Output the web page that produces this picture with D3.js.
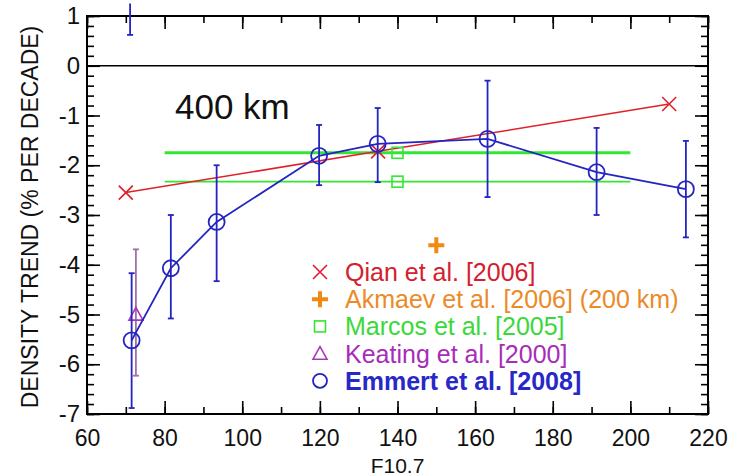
<!DOCTYPE html>
<html>
<head>
<meta charset="utf-8">
<script src="https://cdn.jsdelivr.net/npm/d3@7"></script>
<style>
  body { margin: 0; background: #fff; }
  text { font-family: "Liberation Sans", Arial, sans-serif; }
</style>
</head>
<body>
<div id="chart"></div>
<script>
// Emmert et al. [2008] - F10.7 bins, trend, error bar low / high
const emmertF = [71.5, 81.6, 93.4, 119.8, 134.9, 163.2, 191.3, 214.3];
const emmertY = [-5.52, -4.07, -3.14, -1.81, -1.57, -1.47, -2.14, -2.48];
const emmertLo = [-6.88, -5.08, -4.33, -2.40, -2.34, -2.64, -3.00, -3.45];
const emmertHi = [-4.17, -3.00, -2.00, -1.19, -0.85, -0.30, -1.25, -1.51];
// error bar that runs off the top of the plot
const offscaleBar = { f: 71.1, lo: 0.62, hi: 1.25 };

// Qian et al. [2006]
const qianF = [70, 135, 210];
const qianY = [-2.55, -1.72, -0.77];

// Akmaev et al. [2006] (200 km)
const akmaevF = [150];
const akmaevY = [-3.61];

// Marcos et al. [2005] - squares and the F10.7 range lines
const marcosF = [140, 140];
const marcosY = [-1.75, -2.33];
const marcosRange = [80, 200];

// Keating et al. [2000]
const keatingF = [72.6];
const keatingY = [-5.0];
const keatingLo = [-6.23];
const keatingHi = [-3.69];

const xTicks = [60, 80, 100, 120, 140, 160, 180, 200, 220];
const yTicks = [1, 0, -1, -2, -3, -4, -5, -6, -7];

const legendLabels = [
  "Qian et al. [2006]",
  "Akmaev et al. [2006] (200 km)",
  "Marcos et al. [2005]",
  "Keating et al. [2000]",
  "Emmert et al. [2008]"
];

const red = "#e0202a", orange = "#f08a10", green = "#33e633", purple = "#a838b8", blue = "#2424c0";

const width = 735, height = 476;
const plotLeft = 87, plotRight = 708, plotTop = 16, plotBottom = 414;

const svg = d3.select("#chart").append("svg")
    .attr("width", width)
    .attr("height", height);

const x = d3.scaleLinear().domain([60, 220]).range([plotLeft, plotRight]);
const y = d3.scaleLinear().domain([-7, 1]).range([plotBottom, plotTop]);

// axes with inward ticks
const fmt = d => d3.format("d")(d).replace("\u2212", "-");
const minorX = d3.range(60, 221, 10);
const minorY = d3.range(-7, 1.001, 0.2);

function drawAxis(axis, tr) {
  const g = svg.append("g").attr("transform", tr).call(axis);
  g.select(".domain").remove();
  g.selectAll("line").attr("stroke", "#000").attr("stroke-width", 1.6);
  return g;
}

// minor ticks
drawAxis(d3.axisBottom(x).tickValues(minorX).tickSize(-7).tickFormat(""), `translate(0,${plotBottom})`);
drawAxis(d3.axisTop(x).tickValues(minorX).tickSize(-7).tickFormat(""), `translate(0,${plotTop})`);
drawAxis(d3.axisLeft(y).tickValues(minorY).tickSize(-7).tickFormat(""), `translate(${plotLeft},0)`);
drawAxis(d3.axisRight(y).tickValues(minorY).tickSize(-7).tickFormat(""), `translate(${plotRight},0)`);

// major ticks + labels
const xb = drawAxis(d3.axisBottom(x).tickValues(xTicks).tickSize(-13).tickPadding(16).tickFormat(d3.format("d")), `translate(0,${plotBottom})`);
drawAxis(d3.axisTop(x).tickValues(xTicks).tickSize(-13).tickFormat(""), `translate(0,${plotTop})`);
const yl = drawAxis(d3.axisLeft(y).tickValues(yTicks).tickSize(-13).tickPadding(7).tickFormat(fmt), `translate(${plotLeft},0)`);
drawAxis(d3.axisRight(y).tickValues(yTicks).tickSize(-13).tickFormat(""), `translate(${plotRight},0)`);

xb.selectAll("text").attr("font-size", 23).attr("fill", "#111").attr("font-family", "Liberation Sans, Arial, sans-serif");
yl.selectAll("text").attr("font-size", 24).attr("fill", "#111").attr("font-family", "Liberation Sans, Arial, sans-serif");

// frame
svg.append("rect")
    .attr("x", plotLeft).attr("y", plotTop)
    .attr("width", plotRight - plotLeft).attr("height", plotBottom - plotTop)
    .attr("fill", "none").attr("stroke", "#000").attr("stroke-width", 2);

// zero line
svg.append("line")
    .attr("x1", plotLeft).attr("x2", plotRight)
    .attr("y1", y(0)).attr("y2", y(0))
    .attr("stroke", "#000").attr("stroke-width", 1.6);

// axis titles
svg.append("text")
    .attr("x", x(140)).attr("y", 473)
    .attr("text-anchor", "middle")
    .attr("font-size", 21).attr("fill", "#111")
    .text("F10.7");

svg.append("text")
    .attr("transform", `translate(38,${(plotTop + plotBottom) / 2 + 2}) rotate(-90)`)
    .attr("text-anchor", "middle")
    .attr("font-size", 23).attr("fill", "#111")
    .text("DENSITY TREND (% PER DECADE)");

svg.append("text")
    .attr("x", 175).attr("y", 119)
    .attr("font-size", 35).attr("fill", "#111")
    .text("400 km");

const plot = svg.append("g");

// Marcos range lines
marcosY.forEach((v, i) => {
  plot.append("line")
      .attr("x1", x(marcosRange[0])).attr("x2", x(marcosRange[1]))
      .attr("y1", y(v)).attr("y2", y(v))
      .attr("stroke", green).attr("stroke-width", i === 0 ? 3 : 1.8);
});

// Qian line
const qianPts = qianF.map((f, i) => [f, qianY[i]]);
plot.append("path")
    .attr("d", d3.line().x(d => x(d[0])).y(d => y(d[1]))(qianPts))
    .attr("fill", "none").attr("stroke", red).attr("stroke-width", 1.5);

function cross(g, cx, cy, s, color, w) {
  g.append("path")
      .attr("d", `M${cx - s},${cy - s}L${cx + s},${cy + s}M${cx - s},${cy + s}L${cx + s},${cy - s}`)
      .attr("stroke", color).attr("stroke-width", w).attr("fill", "none");
}
function plus(g, cx, cy, s, color, w) {
  g.append("path")
      .attr("d", `M${cx - s},${cy}L${cx + s},${cy}M${cx},${cy - s}L${cx},${cy + s}`)
      .attr("stroke", color).attr("stroke-width", w).attr("fill", "none");
}
function square(g, cx, cy, s, color, w) {
  g.append("rect")
      .attr("x", cx - s).attr("y", cy - s).attr("width", 2 * s).attr("height", 2 * s)
      .attr("stroke", color).attr("stroke-width", w).attr("fill", "none");
}
function triangle(g, cx, cy, s, color, w) {
  g.append("path")
      .attr("d", `M${cx},${cy - s}L${cx + s},${cy + s * 0.8}L${cx - s},${cy + s * 0.8}Z`)
      .attr("stroke", color).attr("stroke-width", w).attr("fill", "none");
}
function circle(g, cx, cy, r, color, w) {
  g.append("circle")
      .attr("cx", cx).attr("cy", cy).attr("r", r)
      .attr("stroke", color).attr("stroke-width", w).attr("fill", "none");
}
function errBar(g, f, lo, hi, color) {
  g.append("line")
      .attr("x1", x(f)).attr("x2", x(f)).attr("y1", y(lo)).attr("y2", y(hi))
      .attr("stroke", color).attr("stroke-width", 1.8);
  [lo, hi].forEach(v => g.append("line")
      .attr("x1", x(f) - 3).attr("x2", x(f) + 3).attr("y1", y(v)).attr("y2", y(v))
      .attr("stroke", color).attr("stroke-width", 1.8));
}

qianF.forEach((f, i) => cross(plot, x(f), y(qianY[i]), 7, red, 1.6));
marcosF.forEach((f, i) => square(plot, x(f), y(marcosY[i]), 5.5, green, 1.6));
akmaevF.forEach((f, i) => plus(plot, x(f), y(akmaevY[i]), 8, orange, 4));

// Keating
keatingF.forEach((f, i) => {
  errBar(plot, f, keatingLo[i], keatingHi[i], "#a070a8");
  triangle(plot, x(f), y(keatingY[i]), 7, purple, 1.6);
});

// Emmert
const emPts = emmertF.map((f, i) => [f, emmertY[i]]);
plot.append("path")
    .attr("d", d3.line().x(d => x(d[0])).y(d => y(d[1]))(emPts))
    .attr("fill", "none").attr("stroke", blue).attr("stroke-width", 1.8);
emmertF.forEach((f, i) => {
  errBar(plot, f, emmertLo[i], emmertHi[i], blue);
  circle(plot, x(f), y(emmertY[i]), 8, blue, 1.8);
});

// off-scale bar near the top
plot.append("line")
    .attr("x1", x(offscaleBar.f)).attr("x2", x(offscaleBar.f))
    .attr("y1", y(offscaleBar.lo)).attr("y2", y(offscaleBar.hi))
    .attr("stroke", blue).attr("stroke-width", 1.8);
plot.append("line")
    .attr("x1", x(offscaleBar.f) - 3).attr("x2", x(offscaleBar.f) + 3)
    .attr("y1", y(offscaleBar.lo)).attr("y2", y(offscaleBar.lo))
    .attr("stroke", blue).attr("stroke-width", 1.8);

// legend
const textColors = ["#d42030", "#ec8a28", "#3ad83a", "#a82cb8", "#2828c8"];
const symbols = [
  (g, cx, cy) => cross(g, cx, cy, 7, red, 1.6),
  (g, cx, cy) => plus(g, cx, cy, 8, orange, 4),
  (g, cx, cy) => square(g, cx, cy, 5.5, green, 1.6),
  (g, cx, cy) => triangle(g, cx, cy, 7, purple, 1.6),
  (g, cx, cy) => circle(g, cx, cy, 7, blue, 1.8)
];
const legend = svg.append("g");
legendLabels.forEach((lab, i) => {
  const cy = 272 + i * 27.2;
  symbols[i](legend, 320, cy);
  legend.append("text")
      .attr("x", 345).attr("y", cy + 9)
      .attr("font-size", 25)
      .attr("font-weight", i === 4 ? "bold" : "normal")
      .attr("fill", textColors[i])
      .text(lab);
});
</script>
</body>
</html>
